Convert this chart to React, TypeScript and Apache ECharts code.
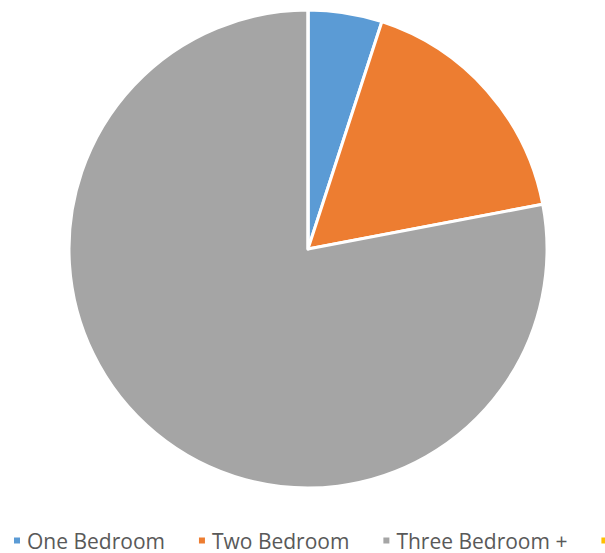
import React, { useEffect, useRef } from "react";
import * as echarts from "echarts";

const categories = ["One Bedroom", "Two Bedroom", "Three Bedroom +", "Four Bedroom +"];
const values = [5, 17, 78, 0];
const colors = ["#5b9bd5", "#ed7d31", "#a5a5a5", "#ffc000"];

export default function App() {
  const ref = useRef<HTMLDivElement>(null);
  useEffect(() => {
    if (!ref.current) return;
    const chart = echarts.init(ref.current, null, { renderer: "svg" });
    chart.setOption({
      animation: false,
      backgroundColor: "#ffffff",
      color: colors,
      legend: {
        type: "plain",
        data: categories,
        left: 12,
        top: 530,
        width: 1000,
        orient: "horizontal",
        icon: "rect",
        itemWidth: 8,
        itemHeight: 8,
        itemGap: 32,
        textStyle: { fontFamily: "Open Sans", fontSize: 21, color: "#595959", padding: [0, 0, 0, 1] },
        padding: 0,
      },
      series: [
        {
          type: "pie",
          center: [308, 249],
          radius: [0, 239],
          startAngle: 90,
          clockwise: true,
          label: { show: false },
          labelLine: { show: false },
          emphasis: { disabled: true },
          itemStyle: { borderColor: "#ffffff", borderWidth: 3 },
          data: categories.map((name, i) => ({ name, value: values[i] })),
        },
      ],
    });
    return () => chart.dispose();
  }, []);
  return <div ref={ref} style={{ width: 605, height: 553, position: "fixed", left: 0, top: 0 }} />;
}
